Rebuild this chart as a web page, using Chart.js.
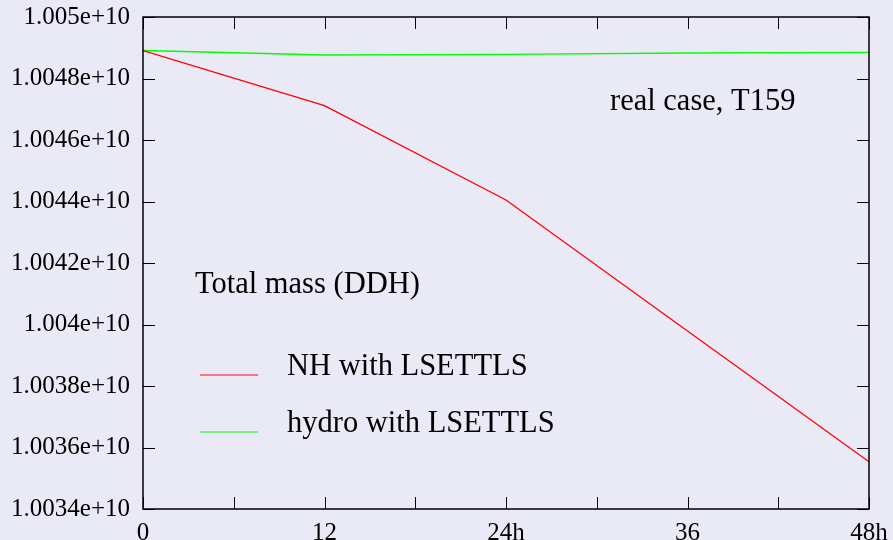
<!DOCTYPE html>
<html>
<head>
<meta charset="utf-8">
<script src="https://cdn.jsdelivr.net/npm/chart.js@4/dist/chart.umd.min.js"></script>
<style>
  html, body { margin: 0; padding: 0; background: #eaeaf6; }
  #wrap { width: 893px; height: 540px; }
</style>
</head>
<body>
<div id="wrap"><canvas id="chart" width="893" height="540"></canvas></div>
<script>
// hours
const hours = [0, 12, 24, 36, 48];
// total mass, NH with LSETTLS (red) and hydro with LSETTLS (green)
const nhMass = [1.004891e10, 1.0047115e10, 1.0044049e10, 1.0039789e10, 1.0035538e10];
const hydroMass = [1.004891e10, 1.0048764e10, 1.0048787e10, 1.0048829e10, 1.0048852e10];

const seriesNames = ['NH with LSETTLS', 'hydro with LSETTLS'];
const xTickValues = [0, 6, 12, 18, 24, 30, 36, 42, 48];
const xTickLabels = ['0', '', '12', '', '24h', '', '36', '', '48h'];
const yTickValues = [1.0034e10, 1.0036e10, 1.0038e10, 1.004e10, 1.0042e10, 1.0044e10, 1.0046e10, 1.0048e10, 1.005e10];
const yTickLabels = ['1.0034e+10', '1.0036e+10', '1.0038e+10', '1.004e+10', '1.0042e+10', '1.0044e+10', '1.0046e+10', '1.0048e+10', '1.005e+10'];
const titleText = 'Total mass (DDH)';
const caseText = 'real case, T159';

const serif = "'Liberation Serif', 'Times New Roman', serif";

// frame, inward ticks, legend and notes like the gnuplot original
const framePlugin = {
  id: 'frame',
  afterDatasetsDraw(chart) {
    const ctx = chart.ctx;
    const a = chart.chartArea;
    const xs = chart.scales.x, ys = chart.scales.y;
    ctx.save();
    ctx.strokeStyle = '#000';
    ctx.lineWidth = 1.5;
    ctx.strokeRect(a.left, a.top, a.right - a.left, a.bottom - a.top);
    ctx.lineWidth = 1;
    ctx.beginPath();
    xTickValues.forEach(v => {
      const x = Math.round(xs.getPixelForValue(v)) + 0.5;
      ctx.moveTo(x, a.bottom); ctx.lineTo(x, a.bottom - 12);
      ctx.moveTo(x, a.top); ctx.lineTo(x, a.top + 12);
    });
    yTickValues.forEach(v => {
      const y = Math.round(ys.getPixelForValue(v)) + 0.5;
      ctx.moveTo(a.left, y); ctx.lineTo(a.left + 12, y);
      ctx.moveTo(a.right, y); ctx.lineTo(a.right - 12, y);
    });
    ctx.stroke();

    ctx.fillStyle = '#000';
    ctx.font = '30.5px ' + serif;
    ctx.textBaseline = 'alphabetic';
    ctx.textAlign = 'left';
    ctx.fillText(caseText, 610, 110);
    ctx.fillText(titleText, 195, 293);

    chart.data.datasets.forEach((ds, i) => {
      const y = 375 + i * 57;
      ctx.strokeStyle = ds.borderColor;
      ctx.lineWidth = 1.2;
      ctx.beginPath();
      ctx.moveTo(200, y); ctx.lineTo(258, y);
      ctx.stroke();
      ctx.fillText(ds.label, 287, y);
    });
    ctx.restore();
  }
};

new Chart(document.getElementById('chart'), {
  type: 'line',
  data: {
    datasets: [
      {
        label: seriesNames[0],
        data: hours.map((h, i) => ({ x: h, y: nhMass[i] })),
        borderColor: '#ff0000',
        borderWidth: 1.3,
        pointRadius: 0,
        tension: 0
      },
      {
        label: seriesNames[1],
        data: hours.map((h, i) => ({ x: h, y: hydroMass[i] })),
        borderColor: '#00ff00',
        borderWidth: 1.3,
        pointRadius: 0,
        tension: 0
      }
    ]
  },
  options: {
    responsive: false,
    animation: false,
    layout: { padding: { left: 0, top: 17, right: 24, bottom: 0 } },
    plugins: { legend: { display: false }, tooltip: { enabled: false } },
    scales: {
      x: {
        type: 'linear',
        min: 0, max: 48,
        grid: { display: false, drawTicks: false },
        border: { display: false },
        afterBuildTicks: s => { s.ticks = xTickValues.map(v => ({ value: v })); },
        afterFit: s => { s.height = 31; s.paddingLeft = 0; s.paddingRight = 0; },
        ticks: {
          autoSkip: false,
          maxRotation: 0,
          padding: 9,
          color: '#000',
          font: { family: serif, size: 25 },
          callback: (v) => xTickLabels[xTickValues.indexOf(v)]
        }
      },
      y: {
        min: yTickValues[0], max: yTickValues[yTickValues.length - 1],
        grid: { display: false, drawTicks: false },
        border: { display: false },
        afterBuildTicks: s => { s.ticks = yTickValues.map(v => ({ value: v })); },
        afterFit: s => { s.width = 143; s.paddingTop = 0; s.paddingBottom = 0; },
        ticks: {
          autoSkip: false,
          padding: 13,
          color: '#000',
          font: { family: serif, size: 25 },
          callback: (v) => yTickLabels[yTickValues.indexOf(v)]
        }
      }
    }
  },
  plugins: [framePlugin]
});
</script>
</body>
</html>
